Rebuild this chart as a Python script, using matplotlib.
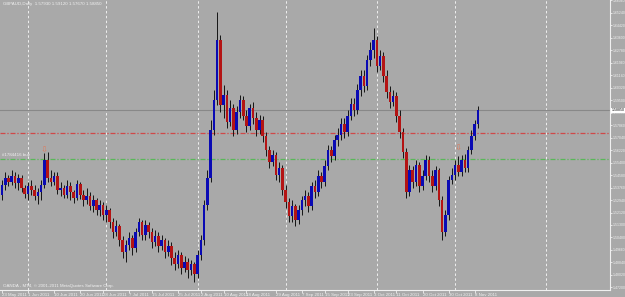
import matplotlib
matplotlib.use("Agg")
import matplotlib.pyplot as plt
import numpy as np
import pandas as pd

symbol = "GBPAUD,Daily"

opens = [1.5327, 1.5393, 1.5439, 1.5412, 1.5452, 1.5406, 1.5439, 1.5373, 1.5333, 1.5386,
         1.5360, 1.5320, 1.5347, 1.5393, 1.5557, 1.5439, 1.5412, 1.5452, 1.5360, 1.5373,
         1.5327, 1.5386, 1.5347, 1.5307, 1.5399, 1.5327, 1.5294, 1.5320, 1.5255, 1.5294,
         1.5228, 1.5261, 1.5195, 1.5228, 1.5149, 1.5084, 1.5123, 1.5031, 1.4952, 1.4998,
         1.5044, 1.4979, 1.5084, 1.5149, 1.5064, 1.5130, 1.5084, 1.5018, 1.5057, 1.4992,
         1.5031, 1.4952, 1.4992, 1.4913, 1.4874, 1.4933, 1.4847, 1.4887, 1.4834, 1.4874,
         1.4808, 1.4933, 1.5031, 1.5261, 1.5439, 1.5754, 1.5951, 1.6345, 1.5918, 1.5984,
         1.5806, 1.5898, 1.5754, 1.5872, 1.5951, 1.5846, 1.5780, 1.5898, 1.5833, 1.5754,
         1.5820, 1.5714, 1.5622, 1.5544, 1.5590, 1.5458, 1.5504, 1.5360, 1.5281, 1.5189,
         1.5255, 1.5163, 1.5228, 1.5294, 1.5320, 1.5255, 1.5386, 1.5347, 1.5452, 1.5412,
         1.5517, 1.5622, 1.5583, 1.5688, 1.5721, 1.5793, 1.5741, 1.5846, 1.5925, 1.5885,
         1.6017, 1.6109, 1.6043, 1.6214, 1.6279, 1.6345, 1.6174, 1.6240, 1.6109, 1.6004,
         1.5938, 1.5977, 1.5846, 1.5741, 1.5609, 1.5347, 1.5491, 1.5412, 1.5524, 1.5386,
         1.5452, 1.5557, 1.5452, 1.5386, 1.5491, 1.5294, 1.5084, 1.5195, 1.5425, 1.5458,
         1.5524, 1.5478, 1.5557, 1.5504, 1.5622, 1.5714, 1.5793]
highs = [1.5425, 1.5478, 1.5458, 1.5491, 1.5478, 1.5465, 1.5458, 1.5393, 1.5412, 1.5425,
         1.5393, 1.5373, 1.5425, 1.5603, 1.5609, 1.5491, 1.5478, 1.5478, 1.5412, 1.5393,
         1.5425, 1.5412, 1.5360, 1.5425, 1.5412, 1.5360, 1.5373, 1.5347, 1.5327, 1.5307,
         1.5294, 1.5281, 1.5261, 1.5241, 1.5176, 1.5163, 1.5136, 1.5057, 1.5031, 1.5084,
         1.5064, 1.5110, 1.5176, 1.5163, 1.5163, 1.5149, 1.5110, 1.5097, 1.5084, 1.5064,
         1.5044, 1.5031, 1.5018, 1.4952, 1.4965, 1.4952, 1.4926, 1.4913, 1.4900, 1.4887,
         1.4965, 1.5064, 1.5294, 1.5491, 1.5820, 1.6017, 1.6529, 1.6378, 1.6050, 1.6017,
         1.5951, 1.5925, 1.5912, 1.5984, 1.5977, 1.5885, 1.5925, 1.5938, 1.5872, 1.5852,
         1.5846, 1.5741, 1.5649, 1.5622, 1.5609, 1.5544, 1.5524, 1.5393, 1.5307, 1.5294,
         1.5268, 1.5261, 1.5320, 1.5360, 1.5347, 1.5412, 1.5425, 1.5491, 1.5478, 1.5557,
         1.5655, 1.5649, 1.5721, 1.5767, 1.5833, 1.5833, 1.5885, 1.5964, 1.5964, 1.6056,
         1.6148, 1.6148, 1.6247, 1.6332, 1.6424, 1.6371, 1.6279, 1.6266, 1.6148, 1.6043,
         1.6017, 1.6004, 1.5885, 1.5767, 1.5636, 1.5524, 1.5517, 1.5557, 1.5544, 1.5491,
         1.5590, 1.5583, 1.5491, 1.5517, 1.5504, 1.5320, 1.5228, 1.5452, 1.5504, 1.5557,
         1.5583, 1.5590, 1.5596, 1.5649, 1.5754, 1.5820, 1.5912]
lows = [1.5294, 1.5360, 1.5386, 1.5393, 1.5373, 1.5360, 1.5347, 1.5307, 1.5294, 1.5327,
        1.5294, 1.5268, 1.5294, 1.5373, 1.5412, 1.5386, 1.5393, 1.5333, 1.5320, 1.5307,
        1.5307, 1.5294, 1.5274, 1.5294, 1.5301, 1.5255, 1.5268, 1.5228, 1.5215, 1.5195,
        1.5189, 1.5163, 1.5149, 1.5110, 1.5044, 1.5057, 1.4992, 1.4913, 1.4887, 1.4965,
        1.4933, 1.4952, 1.5057, 1.5031, 1.5031, 1.5044, 1.4979, 1.4992, 1.4952, 1.4965,
        1.4913, 1.4926, 1.4867, 1.4834, 1.4847, 1.4808, 1.4821, 1.4782, 1.4801, 1.4755,
        1.4782, 1.4900, 1.4998, 1.5228, 1.5412, 1.5721, 1.5918, 1.5872, 1.5833, 1.5767,
        1.5780, 1.5714, 1.5728, 1.5833, 1.5820, 1.5741, 1.5754, 1.5793, 1.5714, 1.5728,
        1.5675, 1.5583, 1.5504, 1.5517, 1.5425, 1.5412, 1.5327, 1.5241, 1.5149, 1.5149,
        1.5123, 1.5136, 1.5195, 1.5255, 1.5215, 1.5228, 1.5307, 1.5320, 1.5373, 1.5386,
        1.5491, 1.5544, 1.5557, 1.5649, 1.5688, 1.5701, 1.5714, 1.5820, 1.5846, 1.5859,
        1.5977, 1.6004, 1.6017, 1.6174, 1.6227, 1.6135, 1.6148, 1.6069, 1.5964, 1.5898,
        1.5912, 1.5806, 1.5701, 1.5570, 1.5307, 1.5320, 1.5373, 1.5386, 1.5347, 1.5360,
        1.5425, 1.5412, 1.5347, 1.5360, 1.5255, 1.5031, 1.5057, 1.5163, 1.5399, 1.5425,
        1.5452, 1.5452, 1.5478, 1.5478, 1.5596, 1.5688, 1.5767]
closes = [1.5393, 1.5439, 1.5412, 1.5452, 1.5406, 1.5439, 1.5373, 1.5333, 1.5386, 1.5360,
          1.5320, 1.5347, 1.5393, 1.5557, 1.5439, 1.5412, 1.5452, 1.5360, 1.5373, 1.5327,
          1.5386, 1.5347, 1.5307, 1.5399, 1.5327, 1.5294, 1.5320, 1.5255, 1.5294, 1.5228,
          1.5261, 1.5195, 1.5228, 1.5149, 1.5084, 1.5123, 1.5031, 1.4952, 1.4998, 1.5044,
          1.4979, 1.5084, 1.5149, 1.5064, 1.5130, 1.5084, 1.5018, 1.5057, 1.4992, 1.5031,
          1.4952, 1.4992, 1.4913, 1.4874, 1.4933, 1.4847, 1.4887, 1.4834, 1.4874, 1.4808,
          1.4933, 1.5031, 1.5261, 1.5439, 1.5754, 1.5951, 1.6345, 1.5918, 1.5984, 1.5806,
          1.5898, 1.5754, 1.5872, 1.5951, 1.5846, 1.5780, 1.5898, 1.5833, 1.5754, 1.5820,
          1.5714, 1.5622, 1.5544, 1.5590, 1.5458, 1.5504, 1.5360, 1.5281, 1.5189, 1.5255,
          1.5163, 1.5228, 1.5294, 1.5320, 1.5255, 1.5386, 1.5347, 1.5452, 1.5412, 1.5517,
          1.5622, 1.5583, 1.5688, 1.5721, 1.5793, 1.5741, 1.5846, 1.5925, 1.5885, 1.6017,
          1.6109, 1.6043, 1.6214, 1.6279, 1.6345, 1.6174, 1.6240, 1.6109, 1.6004, 1.5938,
          1.5977, 1.5846, 1.5741, 1.5609, 1.5347, 1.5491, 1.5412, 1.5524, 1.5386, 1.5452,
          1.5557, 1.5452, 1.5386, 1.5491, 1.5294, 1.5084, 1.5195, 1.5425, 1.5458, 1.5524,
          1.5478, 1.5557, 1.5504, 1.5622, 1.5714, 1.5793, 1.5885]

date_ticks = ["2011-05-23", "2011-06-01", "2011-06-10", "2011-06-20", "2011-06-28",
              "2011-07-07", "2011-07-15", "2011-07-25", "2011-08-02", "2011-08-10",
              "2011-08-18", "2011-08-29", "2011-09-07", "2011-09-15", "2011-09-23",
              "2011-10-03", "2011-10-11", "2011-10-20", "2011-10-30", "2011-11-08"]
grid_dates = ["2011-06-01", "2011-06-29", "2011-08-01", "2011-09-01",
              "2011-10-04", "2011-11-01", "2011-12-04"]
price_ticks = [1.4720, 1.4802, 1.4884, 1.4966, 1.5048, 1.5130, 1.5212, 1.5294,
               1.5376, 1.5458, 1.5540, 1.5622, 1.5704, 1.5786, 1.5868, 1.5950,
               1.6032, 1.6114, 1.6196, 1.6278, 1.6360, 1.6442, 1.6524, 1.6606]

order_label = "#1784416 buy"
buy_level = 1.5563
stop_level = 1.5736
arrow_dates = ["2011-06-07", "2011-11-02"]
arrow_prices = [1.5622, 1.5636]

# daily bars incl. sunday sessions (no saturdays)
days = pd.date_range("2011-05-23", "2011-12-31", freq="D")
days = days[days.dayofweek != 5]
pos = {d.strftime("%Y-%m-%d"): i for i, d in enumerate(days)}

plt.rcParams["font.family"] = ["Liberation Sans", "DejaVu Sans"]

bg = "#A9A9A9"
fg = "#F0F0F0"
up_col = "#0A0AB4"
dn_col = "#B41414"
wick_col = "#141414"

fig = plt.figure(figsize=(6.25, 2.97), dpi=100, facecolor=bg)
ax = fig.add_axes([0, 7 / 297, 610 / 625, 290 / 297], facecolor=bg)

x = np.arange(len(closes))
o = np.array(opens)
c = np.array(closes)
body_lo = np.minimum(o, c)
body_h = np.maximum(np.abs(c - o), 0.0003)
cols = [up_col if cc >= oo else dn_col for oo, cc in zip(o, c)]

for gd in grid_dates:
    ax.axvline(pos[gd], color=fg, lw=0.7, ls=(0, (2.5, 2.5)), zorder=1)

ax.axhline(closes[-1], color="#888888", lw=0.8, zorder=1)
ax.axhline(stop_level, color="#D04848", lw=0.9, ls=(0, (4, 1.5, 1, 1.5)), zorder=1)
ax.axhline(buy_level, color="#58B858", lw=0.9, ls=(0, (4, 1.5, 1, 1.5)), zorder=1)

ax.vlines(x, lows, highs, color=wick_col, lw=0.7, zorder=2)
ax.bar(x, body_h, bottom=body_lo, width=0.8, color=cols, linewidth=0, zorder=3)

for d, p in zip(arrow_dates, arrow_prices):
    ax.text(pos[d], p, "\u21e9", color="#E0785A", fontsize=6, ha="center",
            va="center", family="DejaVu Sans", zorder=4)

ax.set_xlim(-0.6, 186.5)
ax.set_ylim(1.4703, 1.6608)

ax.yaxis.tick_right()
ax.set_yticks(price_ticks, [f"{p:.5f}" for p in price_ticks])
ax.set_xticks([pos[d] for d in date_ticks],
              [pd.Timestamp(d).strftime("%-d %b %Y") for d in date_ticks])
ax.tick_params(axis="y", colors=fg, labelsize=2.5, length=1.2, width=0.6, pad=0.5)
ax.tick_params(axis="x", colors=fg, labelsize=3.2, length=2, width=0.6, pad=0.5)
for lbl in ax.get_xticklabels():
    lbl.set_ha("left")

for side in ["top", "left"]:
    ax.spines[side].set_visible(False)
for side in ["right", "bottom"]:
    ax.spines[side].set_color(fg)
    ax.spines[side].set_linewidth(0.8)

ax.text(0.005, 0.993, f"{symbol}  {opens[-1]:.5f} {highs[-1]:.5f} {lows[-1]:.5f} {closes[-1]:.5f}",
        transform=ax.transAxes, color=fg, fontsize=3.2, ha="left", va="top")
ax.text(0.005, 0.008, "OANDA - MT4, \u00a9 2001-2011 MetaQuotes Software Corp.",
        transform=ax.transAxes, color=fg, fontsize=3.2, ha="left", va="bottom")
ax.text(0.005, buy_level + 0.0012, order_label, color=fg, fontsize=3.2,
        ha="left", va="bottom")
ax.annotate(f"{closes[-1]:.5f}", xy=(1.0, closes[-1]), xycoords=("axes fraction", "data"),
            xytext=(1.2, 0), textcoords="offset points", fontsize=2.5, color="black",
            va="center", ha="left",
            bbox=dict(boxstyle="square,pad=0.15", fc="white", ec="none"))

fig.savefig("out.png", dpi=100, facecolor=bg)
